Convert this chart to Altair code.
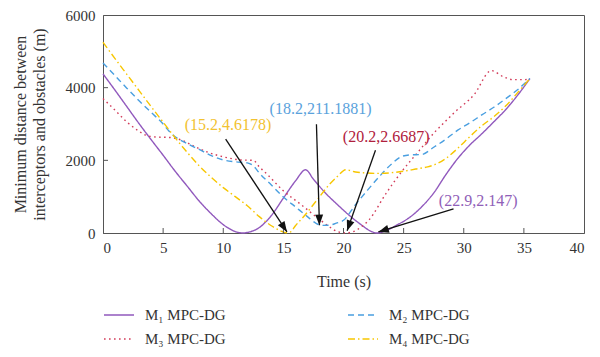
import math
import altair as alt
import pandas as pd

# ---------------- data ----------------
series_names = ["M\u2081 MPC-DG", "M\u2083 MPC-DG", "M\u2082 MPC-DG", "M\u2084 MPC-DG"]
series_colors = ["#9159bd", "#d23c5a", "#4a9fe0", "#f7c600"]
series_dash = [[1, 0], [1.6, 3.4], [6, 4], [7, 3, 1.5, 3]]

m1_t = [0, 1, 2, 3, 4, 5, 6, 7, 8, 9, 10, 11, 11.6, 12.2, 13, 13.66, 14, 15, 16, 16.85,
        17.5, 18.5, 19.5, 20.5, 21.5, 22.2, 22.8, 23.5, 24.5, 25.5, 26.5, 27.5, 28.5,
        29.5, 30.5, 31.5, 32.5, 33.5, 34.5, 35.5]
m1_d = [4380, 3930, 3470, 3010, 2570, 2140, 1700, 1290, 880, 530, 230, 40, 0, 30, 150, 350,
        480, 960, 1430, 1740, 1480, 1100, 780, 480, 220, 60, 0, 60, 230, 430, 720, 1100,
        1600, 2050, 2420, 2730, 3060, 3400, 3800, 4250]

m2_t = [0, 1, 2, 3, 4, 5, 5.5, 6, 7, 8, 9, 10, 11, 12, 12.5, 13, 14, 15, 16, 17, 17.75,
        18.2, 18.8, 19.4, 20, 21, 22, 23, 24, 24.8, 25.5, 26.5, 27.5, 28.5, 29.5, 30.5,
        31.5, 32.5, 33.5, 34.5, 35.5]
m2_d = [4680, 4330, 3980, 3640, 3320, 3000, 2800, 2650, 2460, 2300, 2130, 2010, 1960, 1930,
        1850, 1650, 1320, 990, 720, 450, 260, 211, 215, 270, 350, 780, 1180, 1560, 1900,
        2100, 2150, 2160, 2360, 2580, 2830, 3030, 3250, 3460, 3700, 3950, 4250]

m3_t = [0, 1, 2, 3, 3.5, 4.5, 5.5, 6.5, 7.5, 8.5, 9.5, 10.5, 11.5, 12.5, 13, 13.7, 15,
        16.4, 17.75, 18.84, 19.5, 20.2, 20.75, 21.4, 22.1, 23.5, 24.84, 26.2, 27.57, 28.5,
        29.2, 30.84, 32.3, 33.3, 34.1, 35.1, 35.5]
m3_d = [3700, 3380, 3050, 2800, 2700, 2640, 2630, 2560, 2400, 2250, 2140, 2060, 2010, 2000,
        1820, 1600, 1160, 800, 440, 170, 40, 3, 30, 150, 350, 1070, 1690, 2230, 2770, 3080,
        3310, 3800, 4470, 4300, 4220, 4220, 4250]

m4_t = [0, 1, 2, 3, 4, 5, 6, 7, 8, 9, 10, 11, 12, 13, 14, 14.75, 15.2, 15.6, 16, 16.66,
        17.75, 18.84, 19.5, 20.2, 21, 22, 23, 24, 25, 26, 27, 27.5, 28.5, 29.5, 30.5, 31.5,
        32.5, 33.5, 34.5, 35.5]
m4_d = [5250, 4800, 4360, 3920, 3480, 3050, 2620, 2220, 1850, 1530, 1250, 1000, 750, 450,
        200, 60, 5, 30, 200, 440, 890, 1340, 1560, 1740, 1680, 1650, 1640, 1660, 1700, 1760,
        1820, 1870, 2050, 2330, 2650, 2950, 3200, 3500, 3870, 4250]

series_t = [m1_t, m3_t, m2_t, m4_t]
series_d = [m1_d, m3_d, m2_d, m4_d]

# annotations
ann_text = ["(15.2,4.6178)", "(18.2,211.1881)", "(20.2,2.6687)", "(22.9,2.147)"]
ann_color = ["#f2c230", "#5aa2dc", "#b0203c", "#9060b8"]
ann_x = [10.4, 18.1, 23.55, 31.2]
ann_y = [2960, 3420, 2640, 890]
arrow_x0 = [10.2, 17.75, 22.66, 29.15]
arrow_y0 = [2583, 2995, 2278, 664]
arrow_x1 = [15.3, 18.0, 20.3, 22.9]
arrow_y1 = [30, 215, 60, 30]

x_ticks = [0, 5, 10, 15, 20, 25, 30, 35, 40]
y_ticks = [0, 2000, 4000, 6000]

# ---------------- layout ----------------
W, H = 481, 218
X_MAX, Y_MAX = 40, 6000
FONT = "Liberation Serif"
AX = "#555555"
TXT = "#333333"

rows = []
for name, ts, ds in zip(series_names, series_t, series_d):
    for t, d in zip(ts, ds):
        rows.append({"series": name, "t": t, "d": d})
lines_df = pd.DataFrame(rows)

xs = alt.Scale(domain=[0, X_MAX], nice=False, zero=False)
ys = alt.Scale(domain=[0, Y_MAX], nice=False, zero=False)

legend = alt.Legend(title=None, orient="none", legendX=0, legendY=284, padding=0,
                    columns=2, columnPadding=118, rowPadding=-9,
                    symbolType="stroke", symbolSize=900, symbolStrokeWidth=1.6,
                    labelOffset=10, labelFont=FONT, labelFontSize=15, labelColor=TXT,
                    labelLimit=0)

lines = alt.Chart(lines_df).mark_line(strokeWidth=1.4, interpolate="monotone").encode(
    x=alt.X("t:Q", scale=xs,
            axis=alt.Axis(values=x_ticks, title="Time (s)", ticks=False, grid=False,
                          labelPadding=7, titlePadding=18)),
    y=alt.Y("d:Q", scale=ys,
            axis=alt.Axis(values=y_ticks, format="d",
                          title=["Minimum distance between", "interceptors and obstacles (m)"],
                          ticks=False, grid=False, labelPadding=8, titlePadding=18,
                          titleLineHeight=19)),
    color=alt.Color("series:N", scale=alt.Scale(domain=series_names, range=series_colors),
                    legend=legend),
    strokeDash=alt.StrokeDash("series:N",
                              scale=alt.Scale(domain=series_names, range=series_dash),
                              legend=legend),
)

xt_df = pd.DataFrame({"v": x_ticks[1:-1]})
xtick = alt.Chart(xt_df).mark_rule(color=AX, strokeWidth=1).encode(
    x=alt.X("v:Q", scale=xs), y=alt.value(H), y2=alt.value(H - 5))
yt_df = pd.DataFrame({"v": y_ticks[1:-1]})
ytick = alt.Chart(yt_df).mark_rule(color=AX, strokeWidth=1).encode(
    y=alt.Y("v:Q", scale=ys), x=alt.value(0), x2=alt.value(5))

ann_df = pd.DataFrame({"x": ann_x, "y": ann_y, "text": ann_text, "color": ann_color})
labels = alt.Chart(ann_df).mark_text(font=FONT, fontSize=16, align="center",
                                     baseline="middle").encode(
    x=alt.X("x:Q", scale=xs), y=alt.Y("y:Q", scale=ys), text="text:N",
    color=alt.Color("color:N", scale=None))

angles = []
for x0, y0, x1, y1 in zip(arrow_x0, arrow_y0, arrow_x1, arrow_y1):
    dxp = (x1 - x0) * W / X_MAX
    dyp = -(y1 - y0) * H / Y_MAX
    angles.append(math.degrees(math.atan2(dxp, -dyp)) % 360)
arr_df = pd.DataFrame({"x0": arrow_x0, "y0": arrow_y0, "x1": arrow_x1, "y1": arrow_y1,
                       "angle": angles})
shafts = alt.Chart(arr_df).mark_rule(color="#111111", strokeWidth=1.3).encode(
    x=alt.X("x0:Q", scale=xs), y=alt.Y("y0:Q", scale=ys), x2="x1:Q", y2="y1:Q")
heads = alt.Chart(arr_df).mark_point(shape="M0,0L-0.38,1L0.38,1Z", filled=True,
                                     color="#111111", opacity=1, size=440).encode(
    x=alt.X("x1:Q", scale=xs), y=alt.Y("y1:Q", scale=ys),
    angle=alt.Angle("angle:Q", scale=None))

chart = alt.layer(lines, xtick, ytick, shafts, heads, labels).properties(
    width=W, height=H,
    background="white",
    autosize=alt.AutoSizeParams(type="none"),
    padding={"left": 95, "top": 7, "right": 8, "bottom": 116},
).configure_view(stroke=AX, strokeWidth=1).configure_axis(
    domainColor=AX, domainWidth=1, labelFont=FONT, labelFontSize=15, labelColor=TXT,
    titleFont=FONT, titleFontSize=16, titleFontWeight="normal", titleColor=TXT,
)

chart.save("out.html", embed_options={"renderer": "svg", "actions": False})
